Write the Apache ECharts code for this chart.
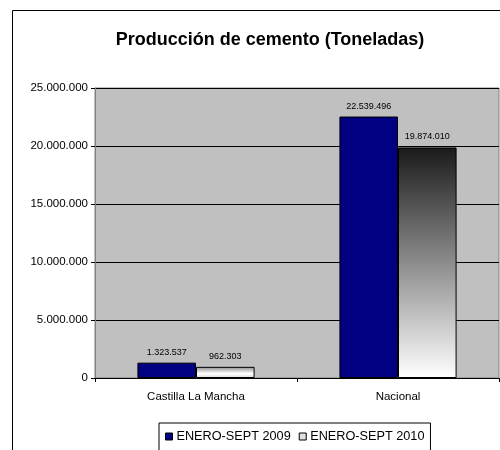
<!DOCTYPE html>
<html lang="es">
  <head>
    <meta charset="UTF-8" />
    <title>Producción de cemento</title>
    <script src="https://cdn.jsdelivr.net/npm/echarts@6/dist/echarts.min.js"></script>
    <style>
      body { margin: 0; background: #fff; }
    </style>
  </head>
  <body>
    <div id="main" style="width: 500px; height: 450px"></div>
    <script type="text/javascript">
      // chart data
      let categories = ["Castilla La Mancha", "Nacional"];
      let seriesNames = ["ENERO-SEPT 2009", "ENERO-SEPT 2010"];
      let values2009 = [1323537, 22539496];
      let values2010 = [962303, 19874010];
      let yTicks = [0, 5000000, 10000000, 15000000, 20000000, 25000000];

      function fmt(n) {
        return String(n).replace(/\B(?=(\d{3})+(?!\d))/g, ".");
      }

      let font = "Arial, 'Liberation Sans', sans-serif";

      let darkGrad = new echarts.graphic.LinearGradient(0, 0, 0, 1, [
        { offset: 0, color: "#1a1a1a" },
        { offset: 0.5, color: "#8c8c8c" },
        { offset: 1, color: "#ffffff" },
      ]);
      let lightGrad = new echarts.graphic.LinearGradient(0, 0, 0, 1, [
        { offset: 0, color: "#8a8a8a" },
        { offset: 0.6, color: "#ffffff" },
        { offset: 1, color: "#d8d8d8" },
      ]);

      let options = {
        animation: false,
        backgroundColor: "#fff",
        textStyle: { fontFamily: font },
        title: {
          text: "Producción de cemento (Toneladas)",
          left: 265,
          top: 26,
          textAlign: "center",
          textStyle: { fontSize: 18, fontWeight: "bold", color: "#000", fontFamily: font },
        },
        graphic: [
          {
            type: "rect",
            shape: { x: 12.5, y: 10.5, width: 500, height: 460 },
            style: { fill: "none", stroke: "#000", lineWidth: 1 },
            silent: true,
          },
        ],
        legend: {
          left: 159,
          top: 423,
          itemWidth: 7,
          itemHeight: 7,
          itemGap: 8,
          padding: [7, 6, 12, 6],
          borderColor: "#000",
          borderWidth: 1,
          icon: "rect",
          textStyle: { fontSize: 12.7, color: "#000", fontFamily: font, padding: [0, 0, 0, -1] },
          data: [
            { name: seriesNames[0], itemStyle: { color: "#000080", borderColor: "#000", borderWidth: 1 } },
            { name: seriesNames[1], itemStyle: { color: "#e0e0e0", borderColor: "#000", borderWidth: 1 } },
          ],
        },
        grid: {
          left: 95,
          top: 88,
          right: 1,
          bottom: 72,
          show: true,
          backgroundColor: "#c0c0c0",
          borderColor: "#808080",
          borderWidth: 1,
          containLabel: false,
        },
        xAxis: {
          type: "category",
          data: categories,
          axisLine: { show: true, lineStyle: { color: "#000", width: 1 } },
          axisTick: { show: true, length: 4, lineStyle: { color: "#000" } },
          axisLabel: { fontSize: 11.5, color: "#000", margin: 13, fontFamily: font },
        },
        yAxis: {
          type: "value",
          min: yTicks[0],
          max: yTicks[yTicks.length - 1],
          interval: yTicks[1] - yTicks[0],
          axisLine: { show: true, lineStyle: { color: "#808080" } },
          axisTick: { show: true, length: 4, lineStyle: { color: "#000" } },
          axisLabel: { fontSize: 11.5, color: "#000", margin: 7, fontFamily: font, formatter: fmt },
          splitLine: { show: true, lineStyle: { color: "#000", width: 1 } },
        },
        series: [
          {
            name: seriesNames[0],
            type: "bar",
            data: values2009,
            barWidth: "29%",
            barGap: "0%",
            itemStyle: { color: "#000080", borderColor: "#000", borderWidth: 1 },
            label: {
              show: true,
              position: "top",
              distance: 6,
              fontSize: 9,
              color: "#000",
              fontFamily: font,
              formatter: (p) => fmt(p.value),
            },
          },
          {
            name: seriesNames[1],
            type: "bar",
            data: values2010.map((v, i) => ({
              value: v,
              itemStyle: { color: i === 0 ? lightGrad : darkGrad },
            })),
            barWidth: "29%",
            itemStyle: { borderColor: "#000", borderWidth: 1 },
            label: {
              show: true,
              position: "top",
              distance: 6,
              fontSize: 9,
              color: "#000",
              fontFamily: font,
              formatter: (p) => fmt(p.value),
            },
          },
        ],
      };

      let myChart = echarts.init(document.getElementById("main"));
      myChart.setOption(options);
    </script>
  </body>
</html>
